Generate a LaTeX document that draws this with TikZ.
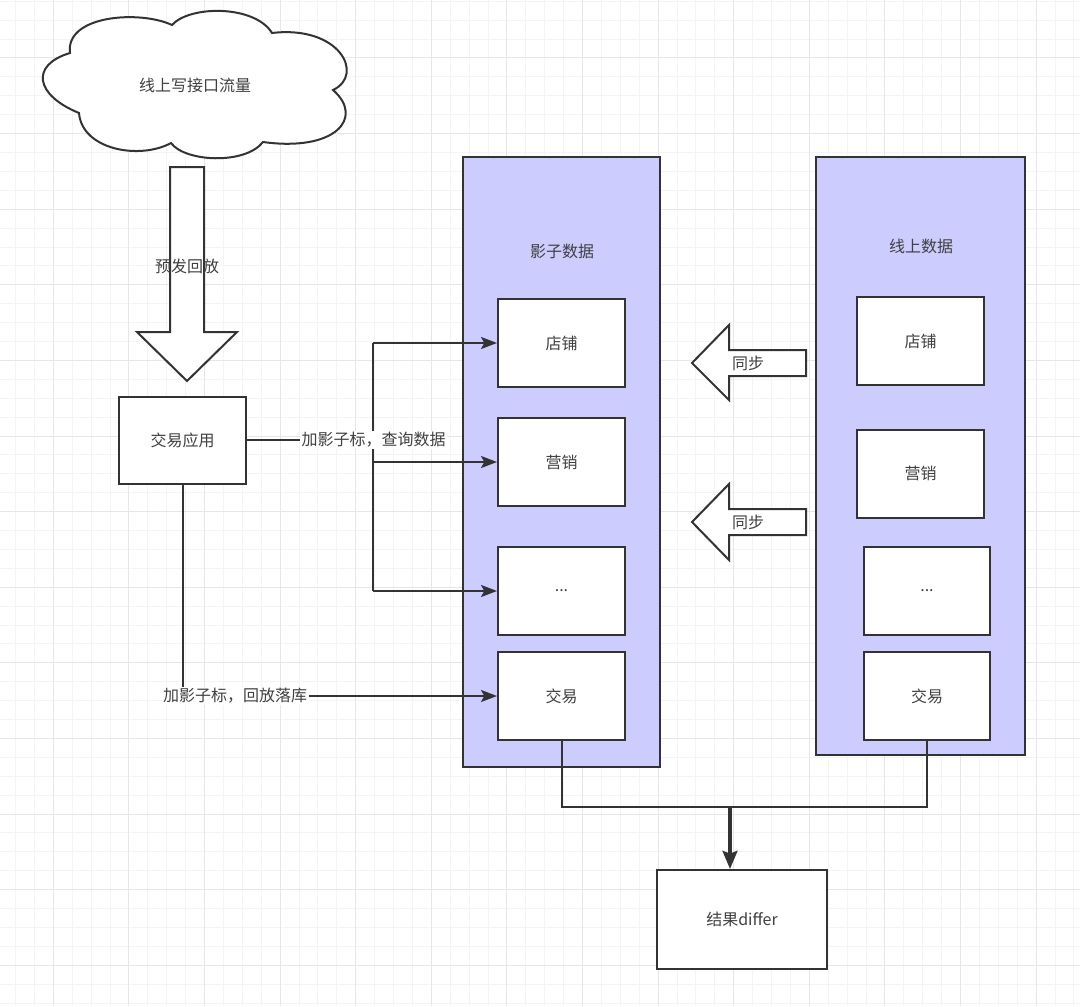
\documentclass[tikz,border=0pt]{standalone}
\usepackage{fontspec}
\setmainfont{Noto Sans CJK SC}
\usetikzlibrary{arrows.meta}
\definecolor{ln}{HTML}{333333}
\definecolor{txt}{HTML}{404040}
\definecolor{lav}{RGB}{204,204,255}
\definecolor{gmin}{HTML}{F4F4F4}
\definecolor{gmaj}{HTML}{E6E6E6}
\begin{document}
\begin{tikzpicture}[x=0.75pt,y=-0.75pt,
  every node/.style={font=\fontsize{12}{14}\selectfont, text=txt},
  sz/.style 2 args={minimum width=#1*0.75pt, minimum height=#2*0.75pt, inner sep=0pt},
  box/.style={draw=ln, line width=1.5pt, fill=white, rectangle},
  cont/.style={draw=ln, line width=1.5pt, fill=lav, rectangle},
  conn/.style={draw=ln, line width=1.5pt},
  arr/.style={conn, -{Stealth[length=12pt,width=9pt,inset=2.5pt]}},
  bigarr/.style={draw=ln, line width=3pt, -{Stealth[length=13.5pt,width=11pt,inset=2pt]}},
  lbl/.style={fill=white, inner sep=1pt},
  shp/.style={draw=ln, line width=1.5pt, fill=white, line join=miter}]
\useasboundingbox (0,0) rectangle (1080,1006);
\fill[white] (0,0) rectangle (1080,1006);
% grid
\foreach \i in {0,...,56} {\pgfmathsetmacro\xx{15.5+18.9*\i}
  \draw[gmin, line width=0.75pt] (\xx,0) -- (\xx,1006);}
\foreach \j in {0,...,53} {\pgfmathsetmacro\yy{1.3+18.9*\j}
  \draw[gmin, line width=0.75pt] (0,\yy) -- (1080,\yy);}
\foreach \i in {0,...,13} {\pgfmathsetmacro\xx{53.3+75.6*\i}
  \draw[gmaj, line width=0.75pt] (\xx,0) -- (\xx,1006);}
\foreach \j in {0,...,12} {\pgfmathsetmacro\yy{58+75.6*\j}
  \draw[gmaj, line width=0.75pt] (0,\yy) -- (1080,\yy);}
% cloud
\draw[shp] (70,53) .. controls (30,65) and (35,95) .. (79,113)
  .. controls (82,150) and (140,160) .. (171,143)
  .. controls (185,162) and (245,165) .. (263,142)
  .. controls (335,152) and (365,118) .. (333,90)
  .. controls (365,75) and (340,25) .. (272,33)
  .. controls (255,5) and (190,5) .. (172,25)
  .. controls (140,10) and (65,15) .. (70,53) -- cycle;
\node (cloud) at (195,85) {线上写接口流量};
% block arrow down
\draw[shp] (170,167) -- (204,167) -- (204,332) -- (237,332) -- (187,381) -- (137,332) -- (170,332) -- cycle;
\node (replay) at (187,266) {预发回放};
% app
\node[box, sz={127}{87}] (app) at (182.5,440) {交易应用};
% containers
\node[cont, sz={197}{610}] (shadow) at (561.5,462) {};
\node (shadowlbl) at (562,251) {影子数据};
\node[cont, sz={209}{598}] (online) at (920.5,456) {};
\node (onlinelbl) at (921,246) {线上数据};
% shadow inner
\node[box, sz={127}{88}] (s1) at (561.5,343) {店铺};
\node[box, sz={127}{88}] (s2) at (561.5,462) {营销};
\node[box, sz={127}{88}] (s3) at (561.5,591) {...};
\node[box, sz={127}{88}] (s4) at (561.5,696) {交易};
% online inner
\node[box, sz={127}{88}] (o1) at (920.5,341) {店铺};
\node[box, sz={127}{88}] (o2) at (920.5,473.5) {营销};
\node[box, sz={126}{88}] (o3) at (927,591) {...};
\node[box, sz={126}{88}] (o4) at (927,696) {交易};
% sync arrows
\draw[shp] (806,350) -- (729,350) -- (729,325) -- (692,363) -- (729,400) -- (729,376) -- (806,376) -- cycle;
\node (sync1) at (748,363) {同步};
\draw[shp] (806,509) -- (729,509) -- (729,484) -- (692,522) -- (729,560) -- (729,535) -- (806,535) -- cycle;
\node (sync2) at (748,522) {同步};
% query connectors
\coordinate (j1) at (373,343);
\coordinate (j2) at (373,462);
\coordinate (j3) at (373,591);
\draw[conn] (j1) -- (j3);
\draw[arr] (j1) -- (s1.west);
\draw[arr] (j2) -- (s2.west);
\draw[arr] (j3) -- (s3.west);
\node[lbl] (q) at (373.5,440) {加影子标，查询数据};
\draw[conn] (app.east) -- (q.west);
% replay connector
\node[lbl] (r) at (235,696) {加影子标，回放落库};
\draw[conn] (app.south) -- (app.south |- r.north);
\draw[arr] (r.east) -- (s4.west);
% result
\node[box, sz={170}{99}] (res) at (742,919.5) {结果differ};
\coordinate (jn) at (730,807);
\draw[conn] (s4.south) |- (jn) -| (o4.south);
\draw[bigarr] (jn) -- (jn |- res.north);
\end{tikzpicture}
\end{document}
